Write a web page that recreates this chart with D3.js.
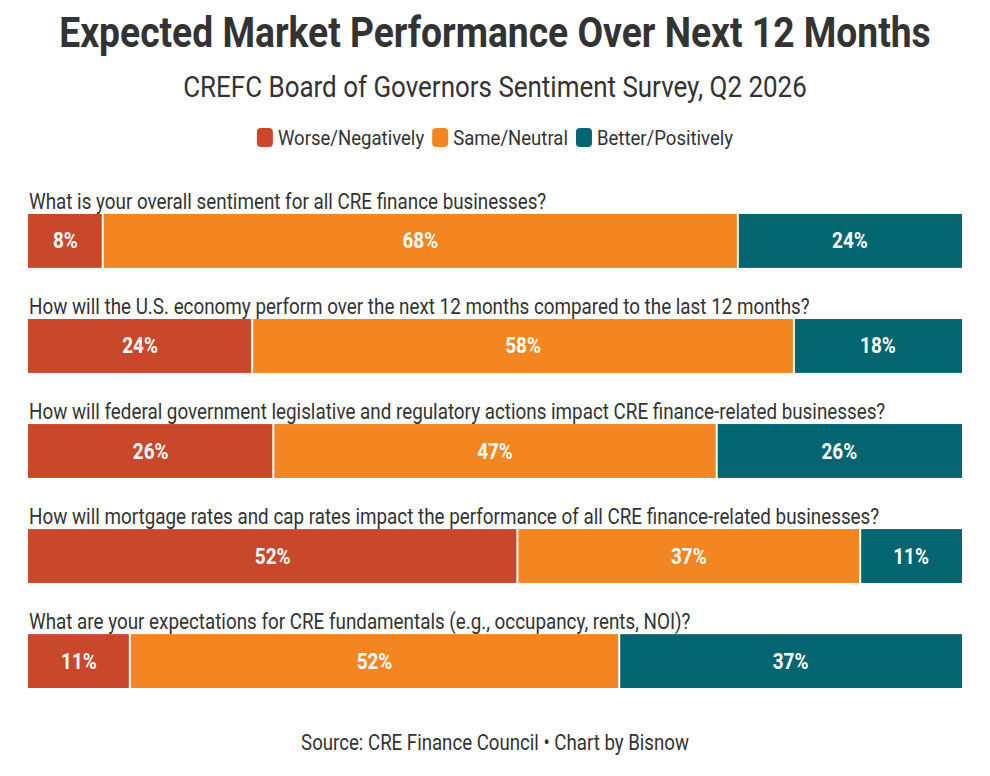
<!DOCTYPE html>
<html>
<head>
<meta charset="utf-8">
<script src="https://cdn.jsdelivr.net/npm/d3@7"></script>
<style>
  body { margin: 0; background: #fff; }
  text { font-family: "Roboto", sans-serif; }
</style>
</head>
<body>
<script>
let questions = [
  "What is your overall sentiment for all CRE finance businesses?",
  "How will the U.S. economy perform over the next 12 months compared to the last 12 months?",
  "How will federal government legislative and regulatory actions impact CRE finance-related businesses?",
  "How will mortgage rates and cap rates impact the performance of all CRE finance-related businesses?",
  "What are your expectations for CRE fundamentals (e.g., occupancy, rents, NOI)?"
];
let seriesNames = ["Worse/Negatively", "Same/Neutral", "Better/Positively"];
let worse = [8, 24, 26, 52.4, 10.9];
let same = [68, 58, 47, 36.7, 52.4];
let better = [24, 18, 26, 10.9, 36.7];

let colors = ["#c9472a", "#f38621", "#02656f"];
let width = 990, height = 776;
let condense = 0.88; // fake Roboto Condensed by squeezing plain Roboto

let svg = d3.select("body").append("svg").attr("width", width).attr("height", height);

let x = d3.scaleLinear().domain([0, 1]).range([28, 962]);
let y = d3.scaleBand().domain(questions).range([214, 688]).paddingInner(0.487);
let color = d3.scaleOrdinal().domain(seriesNames).range(colors);

let table = questions.map(function(q, i) {
  return { question: q, "Worse/Negatively": worse[i], "Same/Neutral": same[i], "Better/Positively": better[i] };
});
// each row fills the full width
let stacked = d3.stack().keys(seriesNames).offset(d3.stackOffsetExpand)(table);

// place a squeezed text at (px, py)
function condText(parent, px, py, size, weight, fill, anchor, str) {
  return parent.append("text")
    .attr("transform", "translate(" + px + "," + py + ") scale(" + condense + ",1)")
    .attr("text-anchor", anchor || "start")
    .style("font-size", size + "px").style("font-weight", weight).style("fill", fill)
    .text(str);
}

condText(svg, width / 2, 47, 42.3, 700, "#333", "middle", "Expected Market Performance Over Next 12 Months");
condText(svg, width / 2, 97, 29.5, 400, "#333", "middle", "CREFC Board of Governors Sentiment Survey, Q2 2026");

// legend
let legend = svg.append("g").attr("class", "legend");
let pos = 0;
seriesNames.forEach(function(name) {
  let item = legend.append("g").attr("transform", "translate(" + pos + ",0)");
  item.append("rect").attr("width", 16).attr("height", 19).attr("y", 128).attr("rx", 4)
    .style("fill", color(name));
  let t = condText(item, 21, 145, 21.1, 400, "#333", "start", name);
  pos += 21 + t.node().getComputedTextLength() * condense + 8;
});
legend.attr("transform", "translate(" + (width - (pos - 8)) / 2 + ",0)");

// questions
questions.forEach(function(q) {
  condText(svg, 29, y(q) - 5, 21.4, 400, "#333", "start", q);
});

// bars
let layer = svg.selectAll("g.layer").data(stacked).enter().append("g")
  .attr("class", "layer").style("fill", function(d) { return color(d.key); });

layer.selectAll("rect").data(function(d) { return d; })
  .enter().append("rect")
  .attr("x", function(d) { return x(d[0]) + (d[0] > 0 ? 1 : 0); })
  .attr("y", function(d) { return y(d.data.question); })
  .attr("width", function(d) {
    return x(d[1]) - x(d[0]) - (d[0] > 0 ? 1 : 0) - (d[1] < 1 ? 1 : 0);
  })
  .attr("height", y.bandwidth());

layer.each(function(s) {
  let g = d3.select(this);
  s.forEach(function(d) {
    condText(g, (x(d[0]) + x(d[1])) / 2, y(d.data.question) + y.bandwidth() / 2 + 7.5,
      21.5, 700, "#fff", "middle", Math.round(d.data[s.key]) + "%");
  });
});

condText(svg, width / 2, 750, 21.2, 400, "#333", "middle",
  "Source: CRE Finance Council \u2022 Chart by Bisnow");
</script>
</body>
</html>
